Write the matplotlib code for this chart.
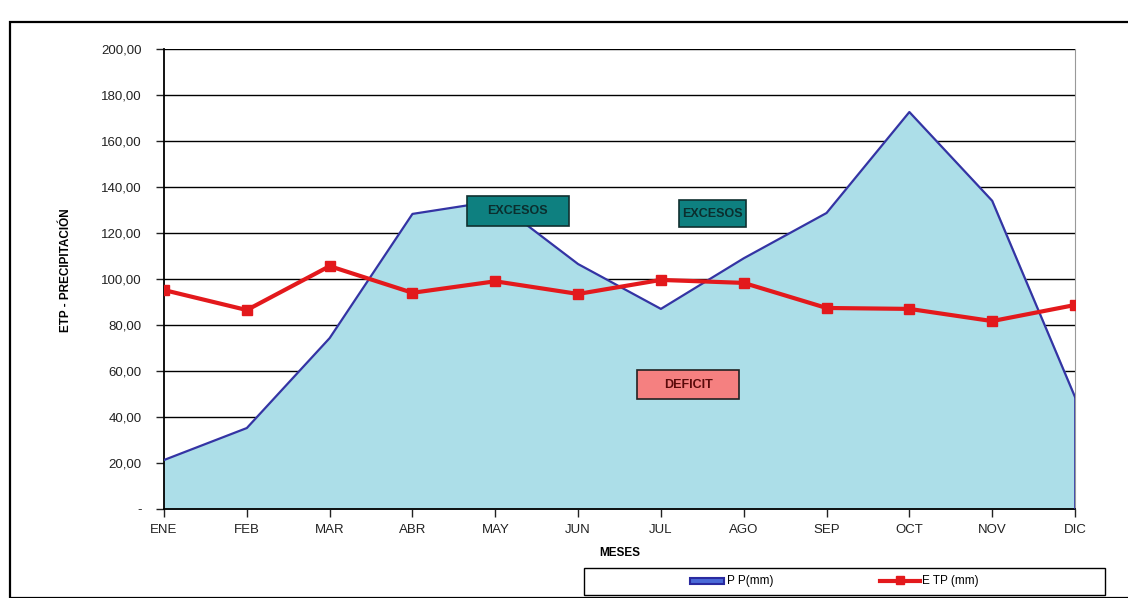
import matplotlib
matplotlib.use("Agg")
import matplotlib.pyplot as plt
from matplotlib.patches import Rectangle
from matplotlib.lines import Line2D

months = ["ENE", "FEB", "MAR", "ABR", "MAY", "JUN", "JUL", "AGO", "SEP", "OCT", "NOV", "DIC"]
pp_mm = [21.3, 35.2, 74.3, 128.3, 133.9, 106.5, 87.0, 109.0, 128.7, 172.6, 134.0, 48.7]
etp_mm = [95.2, 86.5, 105.6, 94.0, 99.0, 93.5, 99.6, 98.3, 87.4, 87.0, 81.7, 88.7]
y_ticks = [0, 20, 40, 60, 80, 100, 120, 140, 160, 180, 200]

plt.rcParams["font.family"] = ["Liberation Sans", "DejaVu Sans"]

W, H = 1128, 598
fig = plt.figure(figsize=(W / 100, H / 100), dpi=100)
ax = fig.add_axes([164 / W, 1 - 509 / H, (1075 - 164) / W, (509 - 49) / H])

x = list(range(len(months)))

# precipitation area
ax.fill_between(x, pp_mm, 0, color="#acdee8", zorder=2)
ax.plot(x, pp_mm, color="#3434a4", lw=1.6, zorder=3)
ax.plot([x[-1], x[-1]], [0, pp_mm[-1]], color="#3434a4", lw=1.2, zorder=3)

# evapotranspiration line
ax.plot(x, etp_mm, color="#e3191c", lw=3, marker="s", ms=7, zorder=5)

ax.set_xlim(0, len(months) - 1)
ax.set_ylim(0, 200)
ax.set_yticks(y_ticks)
ax.set_yticklabels(["-"] + [f"{v:.2f}".replace(".", ",") for v in y_ticks[1:]])
ax.set_xticks(x)
ax.set_xticklabels(months)
ax.yaxis.grid(True, color="black", lw=1.0, zorder=1)
ax.set_axisbelow(True)
ax.tick_params(axis="both", labelsize=9.5, colors="#222222", length=6, width=1, direction="out")
ax.tick_params(axis="x", pad=5)
ax.tick_params(axis="y", pad=10)
ax.spines["top"].set_visible(False)
ax.spines["right"].set_color("#999999")
ax.spines["left"].set_linewidth(1.3)
ax.spines["bottom"].set_linewidth(1.3)

ax.set_ylabel("ETP - PRECIPITACIÓN", fontsize=8.5, fontweight="bold")
ax.yaxis.set_label_coords((72 - 164) / 911, 0.52)
ax.set_xlabel("MESES", fontsize=8.5, fontweight="bold", labelpad=8)


def label_box(xc, yc, w, h, text, fc, tc, ec):
    ax.add_patch(Rectangle((xc - w / 2, yc - h / 2), w, h, fc=fc, ec=ec, lw=1.2, zorder=6))
    ax.text(xc, yc, text, ha="center", va="center", fontsize=9, fontweight="bold",
            color=tc, zorder=7)


label_box(4.27, 129.6, 1.23, 13.0, "EXCESOS", "#0e8080", "#0b2e2e", "#103030")
label_box(6.62, 128.4, 0.81, 11.7, "EXCESOS", "#0e8080", "#0b2e2e", "#103030")
label_box(6.33, 54.1, 1.23, 12.6, "DEFICIT", "#f58080", "#5a0a0a", "#222222")

# legend box at the bottom
ft = fig.transFigure
fig.patches.append(Rectangle((584 / W, 1 - 595 / H), (1105 - 584) / W, 27 / H,
                             transform=ft, fill=True, fc="white", ec="black", lw=1.0))
fig.patches.append(Rectangle((690 / W, 1 - 584 / H), 34 / W, 6 / H, transform=ft,
                             fc="#4a6ad8", ec="#2a2aa0", lw=1.5))
fig.text(727 / W, 1 - 581 / H, "P P(mm)", fontsize=8.5, va="center", ha="left")
fig.lines.append(Line2D([880 / W, 920 / W], [1 - 581 / H, 1 - 581 / H], transform=ft,
                        color="#e3191c", lw=3))
fig.lines.append(Line2D([900 / W], [1 - 580 / H], transform=ft, color="#e3191c",
                        marker="s", ms=6, lw=0))
fig.text(922 / W, 1 - 581 / H, "E TP (mm)", fontsize=8.5, va="center", ha="left")

# outer frame
fig.patches.append(Rectangle((10 / W, 0), 1.0, 1 - 22 / H, transform=ft,
                             fill=False, ec="black", lw=1.6))

fig.savefig("out.png", dpi=100)
